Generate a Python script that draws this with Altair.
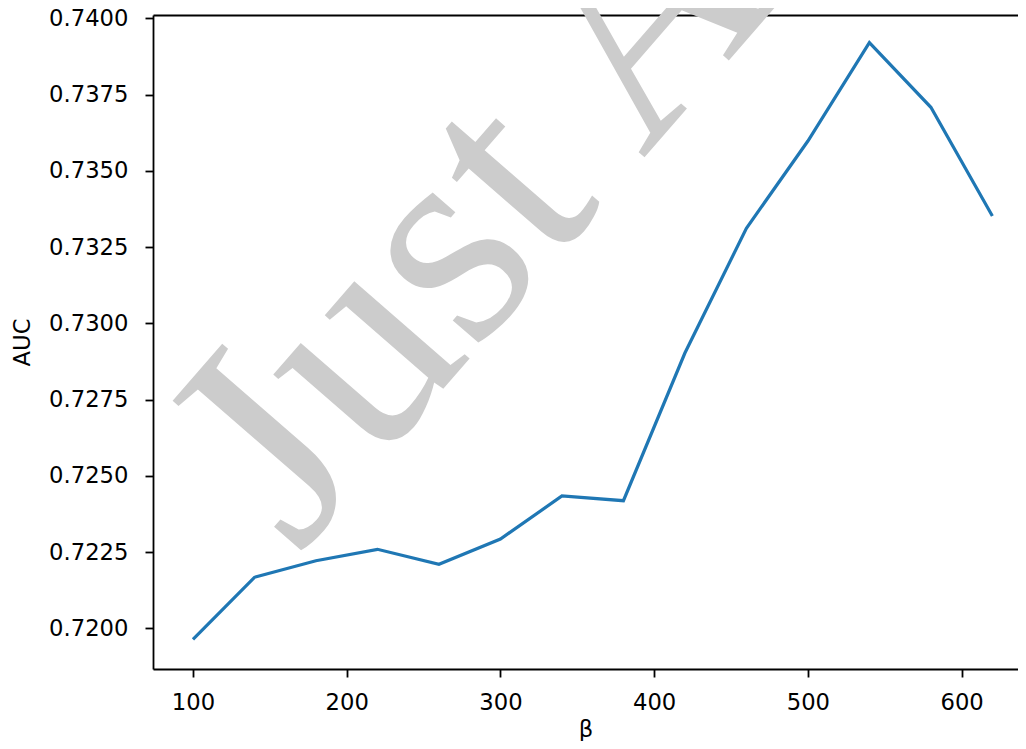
import altair as alt
import pandas as pd

# Data
beta = [100, 140, 180, 220, 260, 300, 340, 380, 420, 460, 500, 540, 580, 620]
auc = [0.719639, 0.721672, 0.722216, 0.722590, 0.722098, 0.722928, 0.724338,
       0.724184, 0.729026, 0.733115, 0.735977, 0.739200, 0.737082, 0.733518]

x_ticks = [100, 200, 300, 400, 500, 600]
y_ticks = [0.7200, 0.7225, 0.7250, 0.7275, 0.7300, 0.7325, 0.7350, 0.7375, 0.7400]
x_title = "β"
y_title = "AUC"
watermark_text = ["Just Accepted"]

df = pd.DataFrame({"beta": beta, "auc": auc})
wm = pd.DataFrame({"t": watermark_text})

W, H = 865, 654
X_DOMAIN = [74.0, 74.0 + W / 1.5373]
Y_DOMAIN = [0.718666, 0.740108]

xs = alt.Scale(domain=X_DOMAIN, nice=False, zero=False)
ys = alt.Scale(domain=Y_DOMAIN, nice=False, zero=False)

FONT = "DejaVu Sans"
FS = 22.7

watermark = alt.Chart(wm).mark_text(
    font="Liberation Serif", fontSize=300, color="#cccccc",
    angle=311, align="left", baseline="alphabetic"
).encode(text="t:N", x=alt.value(145), y=alt.value(541))

line = alt.Chart(df).mark_line(color="#1f77b4", strokeWidth=3.2).encode(
    x=alt.X("beta:Q", scale=xs, axis=alt.Axis(
        values=x_ticks, title=x_title, labelPadding=14, titlePadding=5,
        orient="bottom")),
    y=alt.Y("auc:Q", scale=ys, axis=alt.Axis(
        values=y_ticks, format=".4f", title=y_title, labelPadding=17,
        titlePadding=14)),
)

top_spine = alt.Chart(df).mark_line(opacity=0).encode(
    x=alt.X("beta:Q", scale=xs, axis=alt.Axis(
        orient="top", labels=False, ticks=False, title=None, domain=True)),
    y=alt.Y("auc:Q", scale=ys, axis=None),
)

chart = alt.layer(watermark, line, top_spine).resolve_axis(
    x="independent", y="independent"
).properties(
    width=W, height=H,
    autosize=alt.AutoSizeParams(type="none"),
    padding={"left": 145, "top": 7, "right": 0, "bottom": 72},
).configure_view(stroke=None).configure_axis(
    grid=False, domainColor="black", domainWidth=1.8, tickColor="black",
    tickWidth=1.8, tickSize=8, labelFont=FONT, labelFontSize=FS,
    labelColor="black", titleFont=FONT, titleFontSize=FS,
    titleFontWeight="normal", titleColor="black",
)

chart.save("out.html", embed_options={"renderer": "svg", "actions": False})
